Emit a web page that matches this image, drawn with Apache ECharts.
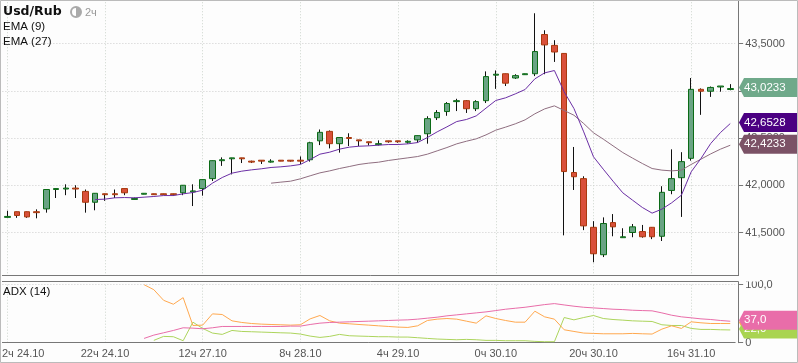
<!DOCTYPE html>
<html><head><meta charset="utf-8">
<style>html,body{margin:0;padding:0;background:#fff}#c{width:798px;height:363px}</style>
<script src="https://cdn.jsdelivr.net/npm/echarts@6/dist/echarts.min.js"></script>
</head><body><div id="c"></div>
<script>
const tickLabels=["2ч 24.10","22ч 24.10","12ч 27.10","8ч 28.10","4ч 29.10","0ч 30.10","20ч 30.10","16ч 31.10"];
// open, close, low, high
const ohlc=[
[41.66,41.67,41.66,41.73],[41.72,41.68,41.655,41.72],[41.72,41.665,41.655,41.72],[41.72,41.71,41.65,41.745],[41.75,41.955,41.71,41.955],
[41.955,41.965,41.865,41.965],[41.96,41.97,41.895,42.01],[41.97,41.96,41.865,42.0],[41.935,41.82,41.71,41.955],[41.82,41.915,41.735,41.915],
[41.91,41.9,41.835,41.91],[41.91,41.9,41.865,41.955],[41.965,41.92,41.895,41.965],[41.85,41.86,41.85,41.87],[41.905,41.915,41.905,41.915],
[41.91,41.9,41.9,41.91],[41.91,41.9,41.9,41.91],[41.91,41.9,41.89,41.91],[41.92,42.0,41.895,42.0],[41.93,41.94,41.78,42.01],
[41.965,42.06,41.89,42.06],[42.07,42.26,42.045,42.26],[42.26,42.27,42.205,42.295],[42.28,42.29,42.115,42.29],[42.29,42.28,42.235,42.29],
[42.255,42.245,42.235,42.26],[42.265,42.255,42.225,42.265],[42.245,42.255,42.24,42.275],[42.265,42.255,42.255,42.265],[42.265,42.255,42.25,42.265],
[42.265,42.255,42.225,42.305],[42.27,42.45,42.25,42.46],[42.47,42.56,42.425,42.59],[42.57,42.44,42.39,42.58],[42.44,42.505,42.345,42.505],
[42.505,42.495,42.415,42.55],[42.48,42.47,42.415,42.48],[42.46,42.45,42.42,42.46],[42.43,42.44,42.42,42.475],[42.47,42.46,42.45,42.47],
[42.47,42.46,42.45,42.47],[42.455,42.465,42.44,42.475],[42.48,42.525,42.45,42.525],[42.545,42.705,42.44,42.73],[42.715,42.77,42.69,42.795],
[42.78,42.865,42.735,42.88],[42.885,42.895,42.785,42.915],[42.895,42.81,42.765,42.9],[42.81,42.885,42.785,42.9],[42.895,43.15,42.87,43.205],
[43.165,43.175,43.02,43.215],[43.18,43.08,43.05,43.18],[43.135,43.16,43.125,43.175],[43.17,43.18,43.17,43.18],[43.18,43.415,43.155,43.82],
[43.595,43.485,43.175,43.64],[43.48,43.41,43.305,43.535],[43.395,42.145,41.47,43.395],[42.135,42.09,41.95,42.405],[42.07,41.57,41.525,42.095],
[41.555,41.275,41.185,41.62],[41.265,41.595,41.24,41.66],[41.605,41.56,41.46,41.695],[41.445,41.455,41.445,41.545],[41.5,41.56,41.45,41.59],
[41.51,41.455,41.445,41.58],[41.555,41.455,41.43,41.555],[41.46,41.925,41.41,41.99],[41.945,42.07,41.905,42.38],[42.08,42.25,41.665,42.35],
[42.285,43.015,42.26,43.135],[43.015,42.995,42.745,43.025],[42.995,43.035,42.935,43.045],[43.04,43.05,42.99,43.05],[43.013,43.0233,43.005,43.07]];
const ema9Lead=9, ema27Lead=27, adxLead=14, plusLead=14, minusLead=15;
const ema9=[41.849,41.853,41.867,41.870,41.867,41.874,41.881,41.891,41.891,41.909,41.923,41.948,42.022,42.082,42.128,42.149,42.163,42.174,42.188,42.195,42.205,42.220,42.272,42.329,42.350,42.382,42.403,42.413,42.417,42.424,42.431,42.431,42.438,42.452,42.505,42.565,42.618,42.674,42.696,42.734,42.816,42.897,42.925,42.967,43.013,43.126,43.189,43.214,42.988,42.812,42.565,42.301,42.170,42.043,41.920,41.842,41.765,41.705,41.747,41.814,41.895,42.142,42.283,42.442,42.558,42.6528];
const ema27=[42.022,42.033,42.043,42.068,42.100,42.131,42.152,42.177,42.198,42.220,42.234,42.244,42.262,42.276,42.290,42.304,42.329,42.364,42.399,42.438,42.466,42.491,42.533,42.583,42.615,42.650,42.692,42.756,42.808,42.840,42.791,42.741,42.653,42.555,42.488,42.417,42.346,42.287,42.230,42.177,42.160,42.152,42.160,42.220,42.276,42.332,42.382,42.4233];
const adx=[7.4,13.1,17.1,21.1,25.7,25.1,24,25.7,28,28,28,28,28,28,28,28.6,28.6,31.4,33.7,34.9,35.4,36,36.6,37.1,37.7,38.3,38.9,39.4,40.6,42.3,44,46.3,48,49.7,51.4,53.1,55.4,57.7,59.4,61.1,63.4,65.7,67.4,65.1,62.9,61.1,60,58.9,57.7,57.1,56,55.4,54.9,51.4,47.4,44.6,42.9,41.1,40,38.3,37];
const diOrange=[100,91.4,73.1,66.3,77.7,29.7,30.3,49.7,48.6,37.7,34.9,33.1,32,31.4,30.9,30.3,30.9,41.1,46.9,37.7,33.7,32.6,31.4,30.3,29.1,28,26.9,26.3,29.1,38.3,40.6,41.7,40.6,37.1,33.7,46.3,41.7,38.3,35.4,35.4,54.3,44.6,40.6,22.3,19.4,16.6,16,15.4,15.4,15.4,16,15.4,14.9,23.4,29.1,24.6,36,34.3,33.1,33.1,33];
const diGreen=[4,10.9,10.3,3.4,35.4,24.6,16.6,14.3,21.1,19.4,18.9,18.3,17.7,17.1,16.6,14.9,11.4,9.1,10.9,14.3,12,11.4,10.9,10.3,10.3,9.7,9.7,8.6,7.4,6.3,5.7,5.1,5.7,5.1,4,4,3.4,3.4,3.4,2.3,1.7,1.7,43.4,39.4,43.4,46.9,41.7,40,38.9,37.7,37.1,36.6,30.9,29.7,29.7,24.6,22.9,22.9,22.3,22];

const N=ohlc.length;
const cats=ohlc.map((_,i)=>i%10===0?tickLabels[i/10]:'');
const pad=(a,n)=>Array(n).fill(null).concat(a);
const bodies=ohlc.map(d=>[d[0],d[1],Math.min(d[0],d[1]),Math.max(d[0],d[1])]);
const LBL="#555", FONT="Liberation Sans";
const grid=[{left:2.4,width:732.75,top:-3.75,height:283.5,outerBoundsMode:'none'},{left:2.4,width:732.75,top:284.7,height:58,outerBoundsMode:'none'}];
const split={show:true,interval:9,alignWithLabel:true,lineStyle:{color:'#cdd5cd',type:[1,2],width:1}};
const chart=echarts.init(document.getElementById('c'),null,{renderer:'canvas'});
const option={
 animation:false,backgroundColor:'#fdfdfd',
 grid,
 xAxis:[
  {type:'category',gridIndex:0,data:cats,axisLine:{show:false},axisTick:{show:false},axisLabel:{show:false},splitLine:split},
  {type:'category',gridIndex:1,data:cats,axisLine:{lineStyle:{color:'#777'}},
   axisTick:{interval:9,alignWithLabel:true,length:4,lineStyle:{color:'#777'}},
   axisLabel:{interval:9,color:LBL,fontFamily:FONT,fontSize:11,margin:6,hideOverlap:false,formatter:(v,i)=>i===0?'':v},
   splitLine:split}
 ],
 yAxis:[
  {type:'value',gridIndex:0,position:'right',offset:3,min:41,max:44,interval:0.5,scale:true,
   axisLine:{show:true,lineStyle:{color:'#777'}},axisTick:{show:true,length:5,lineStyle:{color:'#777'}},
   axisLabel:{color:LBL,fontFamily:FONT,fontSize:11,margin:7,formatter:v=>(v===41||v===44)?'':v.toFixed(4).replace('.',',')},
   splitLine:{lineStyle:{color:'#cdcdcd',type:[1,2]}}},
  {type:'value',gridIndex:1,position:'right',offset:3,min:0,max:100,interval:100,
   axisLine:{show:true,lineStyle:{color:'#777'}},axisTick:{show:true,length:5,lineStyle:{color:'#777'}},
   axisLabel:{color:LBL,fontFamily:FONT,fontSize:11,margin:7,formatter:v=>v===0?'0':v.toFixed(1).replace('.',',')},
   splitLine:{lineStyle:{color:'#cdcdcd',type:[1,2]}}}
 ],
 series:[
  {type:'candlestick',name:'wick',data:ohlc,barWidth:1,xAxisIndex:0,yAxisIndex:0,clip:false,z:2,
   itemStyle:{color:'#111',color0:'#111',borderColor:'#111',borderColor0:'#111',borderWidth:1}},
  {type:'candlestick',name:'Usd/Rub',data:bodies,barWidth:6,xAxisIndex:0,yAxisIndex:0,clip:false,z:3,
   itemStyle:{color:'#6aa484',color0:'#d9503a',borderColor:'#0b6b16',borderColor0:'#a83a0e',borderWidth:1}},
  {type:'line',name:'EMA (27)',data:pad(ema27,ema27Lead),xAxisIndex:0,yAxisIndex:0,symbol:'none',z:4,lineStyle:{color:'#8f6e80',width:1}},
  {type:'line',name:'EMA (9)',data:pad(ema9,ema9Lead),xAxisIndex:0,yAxisIndex:0,symbol:'none',z:5,lineStyle:{color:'#6b2fa5',width:1}},
  {type:'line',name:'DI-',data:pad(diGreen,minusLead),xAxisIndex:1,yAxisIndex:1,symbol:'none',z:4,lineStyle:{color:'#acd45c',width:1}},
  {type:'line',name:'DI+',data:pad(diOrange,plusLead),xAxisIndex:1,yAxisIndex:1,symbol:'none',z:5,lineStyle:{color:'#ffa84f',width:1}},
  {type:'line',name:'ADX',data:pad(adx,adxLead),xAxisIndex:1,yAxisIndex:1,symbol:'none',z:6,lineStyle:{color:'#e96da9',width:1}}
 ]
};
chart.setOption(option);
function tag(y0,color,text,z){
  const y=y0-1,x=739,r=797,h=9.5;
  const els=[{type:'polygon',silent:true,z:z,shape:{points:[[x,y],[x+5,y-h],[r,y-h],[r,y+h],[x+5,y+h]]},style:{fill:color}}];
  if(text)els.push({type:'text',silent:true,z:z,x:x+5,y:y,style:{text,fill:'#fff',font:'11.5px '+FONT,textVerticalAlign:'middle'}});
  return els;
}
const py=v=>chart.convertToPixel({yAxisIndex:0},v);
const pa=v=>chart.convertToPixel({yAxisIndex:1},v);
const last=ohlc[N-1][1];
const F4=v=>v.toFixed(4).replace('.',','), F1=v=>v.toFixed(1).replace('.',',');
const line=(x1,y1,x2,y2,c)=>({type:'line',silent:true,z:50,shape:{x1,y1,x2,y2},style:{stroke:c,lineWidth:1}});
const gfx=[
 {type:'rect',silent:true,z:40,shape:{x:0,y:276,width:760,height:5.5},style:{fill:'#fdfdfd'}},
 line(2,275.5,738.5,275.5,'#777'),line(738.5,0,738.5,276,'#777'),
 line(2,281.5,738.5,281.5,'#777'),line(738.5,281.5,738.5,343,'#777'),
 {type:'rect',silent:true,z:60,shape:{x:0.5,y:0.5,width:797,height:362},style:{fill:'none',stroke:'#bbb',lineWidth:1}},
 {type:'text',silent:true,z:60,x:3,y:12,style:{text:'Usd/Rub',fill:'#111',font:'bold 12.5px "DejaVu Sans"',textVerticalAlign:'middle'}},
 {type:'circle',silent:true,z:60,shape:{cx:76,cy:12,r:5},style:{fill:'#fff',stroke:'#aaa',lineWidth:2}},
 {type:'sector',silent:true,z:60,shape:{cx:76,cy:12,r:5,r0:0,startAngle:-Math.PI/2,endAngle:Math.PI/2},style:{fill:'#aaa'}},
 {type:'text',silent:true,z:60,x:85,y:13,style:{text:'2ч',fill:'#999',font:'11px '+FONT,textVerticalAlign:'middle'}},
 {type:'text',silent:true,z:60,x:3,y:27,style:{text:'EMA (9)',fill:'#111',font:'11.5px '+FONT,textVerticalAlign:'middle'}},
 {type:'text',silent:true,z:60,x:3,y:42,style:{text:'EMA (27)',fill:'#111',font:'11.5px '+FONT,textVerticalAlign:'middle'}},
 {type:'text',silent:true,z:60,x:3,y:292,style:{text:'ADX (14)',fill:'#111',font:'11.5px '+FONT,textVerticalAlign:'middle'}},
 {type:'text',silent:true,z:60,x:2,y:354,style:{text:tickLabels[0],fill:LBL,font:'11px '+FONT,textVerticalAlign:'middle'}},
 ...tag(py(last),'#6fa98a',F4(last),61),
 ...tag(py(ema9[ema9.length-1]),'#4b0082',F4(ema9[ema9.length-1]),62),
 ...tag(py(ema27[ema27.length-1]),'#7b5266',F4(ema27[ema27.length-1]),63),
 ...tag(pa(diOrange[diOrange.length-1]),'#ffa84f','',64),
 ...tag(pa(diGreen[diGreen.length-1]),'#a9d450',F1(diGreen[diGreen.length-1]),65),
 ...tag(pa(adx[adx.length-1]),'#e96da9',F1(adx[adx.length-1]),66)
];
chart.setOption({graphic:gfx});
</script></body></html>
